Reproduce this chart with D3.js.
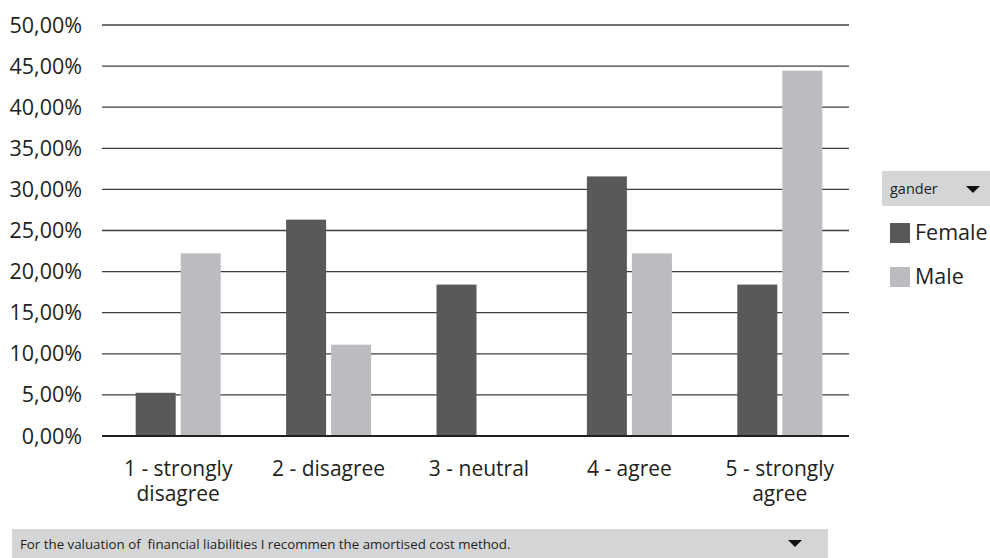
<!DOCTYPE html>
<html>
<head>
<meta charset="utf-8">
<script src="https://cdn.jsdelivr.net/npm/d3@7"></script>
<style>
  html, body { margin: 0; padding: 0; background: #fff; }
  svg { display: block; font-family: "Open Sans", "Noto Sans", sans-serif; }
  .pre { white-space: pre; }
</style>
</head>
<body>
<svg id="chart" width="990" height="558"></svg>
<script>
// Survey answers by gender (share of respondents, %)
const categories = ["1 - strongly disagree", "2 - disagree", "3 - neutral", "4 - agree", "5 - strongly agree"];
const categoryLines = [["1 - strongly", "disagree"], ["2 - disagree"], ["3 - neutral"], ["4 - agree"], ["5 - strongly", "agree"]];
const seriesNames = ["Female", "Male"];
const female = [5.26, 26.32, 18.42, 31.58, 18.42];
const male = [22.22, 11.11, 0, 22.22, 44.44];
const yTicks = [0, 5, 10, 15, 20, 25, 30, 35, 40, 45, 50];
const colors = ["#58595b", "#bbbcc0"];
const legendTitle = "gander";
const filterLabel = "For the valuation of  financial liabilities I recommen the amortised cost method.";

const svg = d3.select("#chart");
const textColor = "#231f20";

const x = d3.scaleBand().domain(categories).range([103, 855]).paddingInner(0).paddingOuter(0);
const y = d3.scaleLinear().domain([0, 50]).range([436, 25]);

// Horizontal gridlines
svg.append("g").selectAll("line").data(yTicks.filter(d => d > 0)).join("line")
  .attr("x1", 102).attr("x2", 849)
  .attr("y1", d => y(d)).attr("y2", d => y(d))
  .attr("stroke", "#3f3f41").attr("stroke-width", 1.3);

// Y axis labels
const fmt = d => d.toFixed(2).replace(".", ",") + "%";
svg.append("g").selectAll("text").data(yTicks).join("text")
  .attr("x", 82).attr("y", d => y(d)).attr("dy", "0.35em")
  .attr("text-anchor", "end").attr("font-size", 21.5).attr("fill", textColor)
  .text(fmt);

// Bars
const barW = 40, gap = 5;
const rows = categories.map((c, i) => ({ c, vals: [female[i], male[i]] }));
const groups = svg.append("g").selectAll("g").data(rows).join("g")
  .attr("transform", d => `translate(${x(d.c) + x.bandwidth() / 2},0)`);
groups.selectAll("rect").data(d => d.vals.map((v, k) => ({ v, k }))).join("rect")
  .attr("x", d => d.k === 0 ? -barW - gap / 2 : gap / 2)
  .attr("width", barW)
  .attr("y", d => y(d.v))
  .attr("height", d => y(0) - y(d.v))
  .attr("fill", d => colors[d.k]);

// Baseline
svg.append("line").attr("x1", 102).attr("x2", 849).attr("y1", y(0)).attr("y2", y(0))
  .attr("stroke", "#231f20").attr("stroke-width", 2);

// Category labels, one text element per line
const labelLines = [];
rows.forEach((d, i) => categoryLines[i].forEach((t, j) => labelLines.push({ c: d.c, t, j })));
svg.append("g").selectAll("text").data(labelLines).join("text")
  .attr("x", d => x(d.c) + x.bandwidth() / 2)
  .attr("y", d => 476 + d.j * 25)
  .attr("text-anchor", "middle").attr("font-size", 21).attr("fill", textColor)
  .text(d => d.t);

// Legend
const lg = svg.append("g");
lg.append("rect").attr("x", 882).attr("y", 171).attr("width", 108).attr("height", 35).attr("fill", "#d4d5d7");
lg.append("text").attr("x", 890).attr("y", 194).attr("font-size", 14.5).attr("fill", textColor).text(legendTitle);
lg.append("path").attr("d", "M966,186 L980,186 L973,193 Z").attr("fill", "#111");
seriesNames.forEach((n, i) => {
  lg.append("rect").attr("x", 890).attr("y", 223 + i * 44).attr("width", 20).attr("height", 20).attr("fill", colors[i]);
  lg.append("text").attr("x", 915).attr("y", 240 + i * 44).attr("font-size", 21.5).attr("fill", textColor).text(n);
});

// Field filter bar
svg.append("rect").attr("x", 12).attr("y", 529).attr("width", 816).attr("height", 29).attr("fill", "#d4d5d7");
svg.append("text").attr("class", "pre").attr("x", 20).attr("y", 549).attr("font-size", 13.3).attr("fill", textColor).text(filterLabel);
svg.append("path").attr("d", "M788,540 L802,540 L795,547 Z").attr("fill", "#111");
</script>
</body>
</html>
